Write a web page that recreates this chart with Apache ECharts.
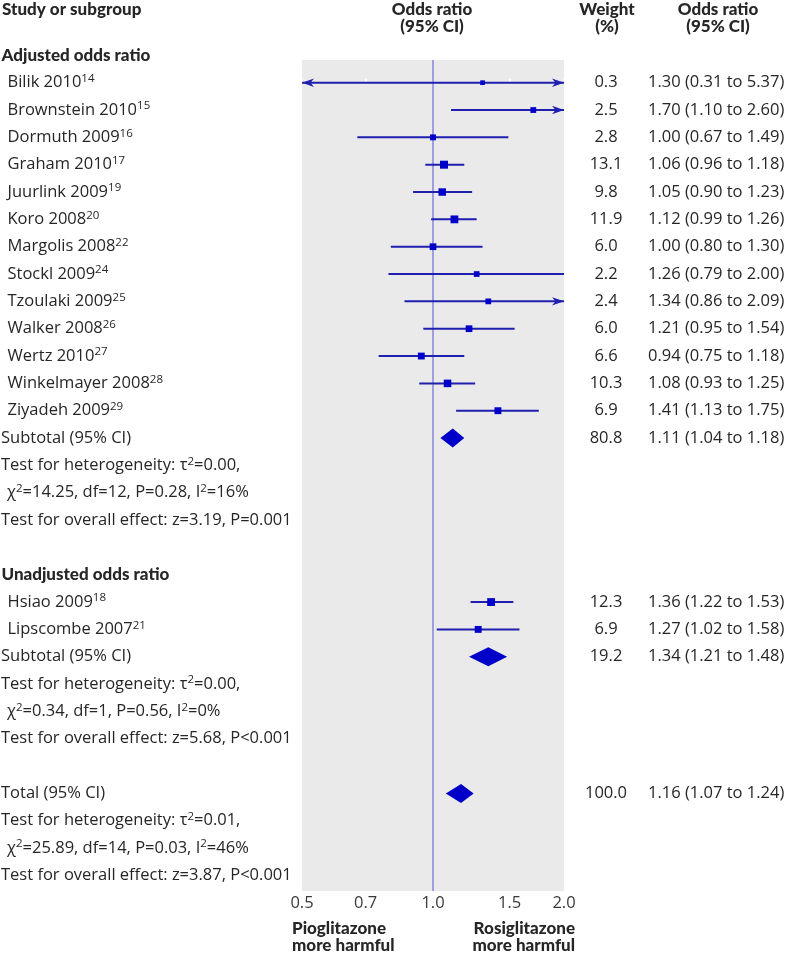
<!DOCTYPE html>
<html><head><meta charset="utf-8">
<script src="https://cdn.jsdelivr.net/npm/echarts@6/dist/echarts.min.js"></script>
<style>html,body{margin:0;padding:0;background:#fff}#c{width:792px;height:957px}</style>
</head><body><div id="c"></div>
<script>
// ---------------- data ----------------
const sectionLabels = ['Adjusted odds ratio', 'Unadjusted odds ratio'];

const adjStudies = ['Bilik 2010','Brownstein 2010','Dormuth 2009','Graham 2010','Juurlink 2009','Koro 2008','Margolis 2008','Stockl 2009','Tzoulaki 2009','Walker 2008','Wertz 2010','Winkelmayer 2008','Ziyadeh 2009'];
const adjRefs    = ['14','15','16','17','19','20','22','24','25','26','27','28','29'];
const adjWeight  = [0.3, 2.5, 2.8, 13.1, 9.8, 11.9, 6.0, 2.2, 2.4, 6.0, 6.6, 10.3, 6.9];
const adjOR      = [1.30, 1.70, 1.00, 1.06, 1.05, 1.12, 1.00, 1.26, 1.34, 1.21, 0.94, 1.08, 1.41];
const adjLow     = [0.31, 1.10, 0.67, 0.96, 0.90, 0.99, 0.80, 0.79, 0.86, 0.95, 0.75, 0.93, 1.13];
const adjHigh    = [5.37, 2.60, 1.49, 1.18, 1.23, 1.26, 1.30, 2.00, 2.09, 1.54, 1.18, 1.25, 1.75];

const unadjStudies = ['Hsiao 2009','Lipscombe 2007'];
const unadjRefs    = ['18','21'];
const unadjWeight  = [12.3, 6.9];
const unadjOR      = [1.36, 1.27];
const unadjLow     = [1.22, 1.02];
const unadjHigh    = [1.53, 1.58];

const summaryLabels = ['Subtotal (95% CI)','Subtotal (95% CI)','Total (95% CI)'];
const summaryWeight = [80.8, 19.2, 100.0];
const summaryOR     = [1.11, 1.34, 1.16];
const summaryLow    = [1.04, 1.21, 1.07];
const summaryHigh   = [1.18, 1.48, 1.24];

const hetTau2 = ['0.00','0.00','0.01'];
const hetChi2 = ['14.25','0.34','25.89'];
const hetDf   = ['12','1','14'];
const hetP    = ['P=0.28','P=0.56','P=0.03'];
const hetI2   = ['16','0','46'];
const effectZ = ['3.19','5.68','3.87'];
const effectP = ['P=0.001','P<0.001','P<0.001'];

const tickValues = [0.5, 0.7, 1.0, 1.5, 2.0];

// ---------------- styles ----------------
const FONT = '"Open Sans", "Noto Sans", sans-serif';
const BFONT = 'Lato, "Open Sans", sans-serif';
const FS = 16.5;
const TEXT = '#262626';
const CI_COLOR = '#1f1fb0';
const SQ_COLOR = '#0000c8';
const REF_COLOR = '#8484dc';
const BG = '#eaeaea';
const indentByKind = {section: 1.5, study: 7.5, summary: 1, stat: 1, statCont: 7, overall: 1};

const xMin = Math.log(tickValues[0]), xMax = Math.log(tickValues[tickValues.length - 1]);
const yMin = -0.83, yMax = 29.57;

// ---------------- rows ----------------
const rows = [];
let r = -1;
function addSummary(i) {
  rows.push({y: r++, kind: 'summary', text: '{s|' + summaryLabels[i] + '}', w: summaryWeight[i], or: summaryOR[i], lo: summaryLow[i], hi: summaryHigh[i]});
  rows.push({y: r++, kind: 'stat', text: '{s|Test for heterogeneity: τ}{sup|2}{s|=' + hetTau2[i] + ',}'});
  rows.push({y: r++, kind: 'statCont', text: '{s|χ}{sup|2}{s|=' + hetChi2[i] + ', df=' + hetDf[i] + ', ' + hetP[i] + ', I}{sup|2}{s|=' + hetI2[i] + '%}'});
  rows.push({y: r++, kind: 'overall', text: '{s|Test for overall effect: z=' + effectZ[i] + ', ' + effectP[i] + '}'});
  r++;
}
function addSection(i, studies, refs, w, or, lo, hi) {
  rows.push({y: r++, kind: 'section', text: '{b|' + sectionLabels[i] + '}'});
  studies.forEach((s, k) => rows.push({y: r++, kind: 'study', text: '{s|' + s + '}{sup|' + refs[k] + '}', w: w[k], or: or[k], lo: lo[k], hi: hi[k]}));
  addSummary(i);
}
addSection(0, adjStudies, adjRefs, adjWeight, adjOR, adjLow, adjHigh);
addSection(1, unadjStudies, unadjRefs, unadjWeight, unadjOR, unadjLow, unadjHigh);
addSummary(2);

const studyRows = rows.filter(d => d.kind === 'study');
const summaryRows = rows.filter(d => d.kind === 'summary');
const valueRows = rows.filter(d => d.w !== undefined);

const rich = {
  s: {fontFamily: FONT, fontSize: FS, fill: TEXT, lineHeight: 20},
  sup: {fontFamily: FONT, fontSize: 11.5, fill: TEXT, verticalAlign: 'top', lineHeight: 12},
  b: {fontFamily: BFONT, fontSize: 17, fontWeight: 900, fill: TEXT, lineHeight: 20}
};

function textItem(list, alignX, align, getText, useIndent) {
  return function (params, api) {
    const row = list[params.dataIndex];
    const p = api.coord([alignX, api.value(1)]);
    return {
      type: 'text',
      x: p[0] + (useIndent ? indentByKind[row.kind] : 0),
      y: p[1],
      style: {text: getText(row), rich: rich, align: align, verticalAlign: 'middle',
              fontFamily: FONT, fontSize: FS, fill: TEXT}
    };
  };
}

function arrow(x, y, dir) {
  return {type: 'polygon', shape: {points: [[x, y], [x - dir * 12, y - 4.2], [x - dir * 8.5, y], [x - dir * 12, y + 4.2]]},
          style: {fill: CI_COLOR}};
}

function studyItem(params, api) {
  const orv = api.value(0), y = api.value(1), lo = api.value(2), hi = api.value(3), w = api.value(4);
  const a = api.coord([Math.max(lo, xMin), y]);
  const b = api.coord([Math.min(hi, xMax), y]);
  const c = api.coord([orv, y]);
  const size = 4.1 + 1.07 * Math.sqrt(w);
  const children = [{type: 'line', shape: {x1: a[0], y1: a[1], x2: b[0], y2: b[1]}, style: {stroke: CI_COLOR, lineWidth: 2}}];
  if (lo < xMin - 1e-9) children.push(arrow(a[0], a[1], -1));
  if (hi > xMax + 1e-9) children.push(arrow(b[0], b[1], 1));
  children.push({type: 'rect', shape: {x: c[0] - size / 2, y: c[1] - size / 2, width: size, height: size}, style: {fill: SQ_COLOR}});
  return {type: 'group', children: children};
}

function diamondItem(params, api) {
  const y = api.value(1);
  const c = api.coord([api.value(0), y]);
  const a = api.coord([api.value(2), y]);
  const b = api.coord([api.value(3), y]);
  const h = 9.5;
  return {type: 'polygon', shape: {points: [[a[0], c[1]], [c[0], c[1] - h], [b[0], c[1]], [c[0], c[1] + h]]}, style: {fill: SQ_COLOR}};
}

function refItem(params, api) {
  const t = api.coord([api.value(0), yMin]);
  const b = api.coord([api.value(0), yMax]);
  return {type: 'line', shape: {x1: t[0], y1: t[1], x2: b[0], y2: b[1]}, style: {stroke: REF_COLOR, lineWidth: 1.5}};
}

const gridBase = {top: 60, bottom: 66, outerBoundsMode: 'none', containLabel: false};
const hiddenY = i => ({gridIndex: i, type: 'value', inverse: true, min: yMin, max: yMax, show: false});
const hiddenX = i => ({gridIndex: i, type: 'value', min: 0, max: 1, show: false});
const headStyle = (text, align) => ({text: text, fontFamily: BFONT, fontWeight: 900, fontSize: 17, lineHeight: 17, fill: TEXT, align: align, verticalAlign: 'middle'});

const option = {
  animation: false,
  backgroundColor: '#fff',
  textStyle: {fontFamily: FONT},
  grid: [
    Object.assign({left: 302, right: 228, show: true, backgroundColor: BG, borderWidth: 0}, gridBase),
    Object.assign({left: 0, width: 290}, gridBase),
    Object.assign({left: 560, width: 92}, gridBase),
    Object.assign({left: 648, width: 140}, gridBase)
  ],
  xAxis: [
    {gridIndex: 0, type: 'value', min: xMin, max: xMax,
     axisLine: {show: false}, splitLine: {show: false},
     axisTick: {show: true, inside: true, length: 4, lineStyle: {color: '#fff', width: 2}, customValues: tickValues.map(Math.log)},
     axisLabel: {customValues: tickValues.map(Math.log), formatter: v => Math.exp(v).toFixed(1),
                 fontFamily: FONT, fontSize: FS, color: '#3a3a3a', margin: 4}},
    hiddenX(1), hiddenX(2), hiddenX(3)
  ],
  yAxis: [hiddenY(0), hiddenY(1), hiddenY(2), hiddenY(3)],
  graphic: [
    {type: 'text', x: 2, y: 10, style: headStyle('Study or subgroup', 'left')},
    {type: 'text', x: 432, y: 18.5, style: headStyle('Odds ratio\n(95% CI)', 'center')},
    {type: 'text', x: 607, y: 18.5, style: headStyle('Weight\n(%)', 'center')},
    {type: 'text', x: 718, y: 18.5, style: headStyle('Odds ratio\n(95% CI)', 'center')},
    {type: 'text', x: 292, y: 937, style: Object.assign(headStyle('Pioglitazone\nmore harmful', 'left'), {lineHeight: 16.5})},
    {type: 'text', x: 575, y: 937, style: Object.assign(headStyle('Rosiglitazone\nmore harmful', 'right'), {lineHeight: 16.5})}
  ],
  series: [
    {type: 'custom', name: 'ref', xAxisIndex: 0, yAxisIndex: 0, z: 1, renderItem: refItem, data: [[Math.log(1), 0]], silent: true},
    {type: 'custom', name: 'studies', xAxisIndex: 0, yAxisIndex: 0, z: 3, renderItem: studyItem, clip: false,
     encode: {x: [0, 2, 3], y: 1},
     data: studyRows.map(d => [Math.log(d.or), d.y, Math.log(d.lo), Math.log(d.hi), d.w])},
    {type: 'custom', name: 'summaries', xAxisIndex: 0, yAxisIndex: 0, z: 3, renderItem: diamondItem, clip: false,
     encode: {x: [0, 2, 3], y: 1},
     data: summaryRows.map(d => [Math.log(d.or), d.y, Math.log(d.lo), Math.log(d.hi)])},
    {type: 'custom', name: 'labels', xAxisIndex: 1, yAxisIndex: 1, clip: false, encode: {x: 0, y: 1},
     renderItem: textItem(rows, 0, 'left', d => d.text, true),
     data: rows.map(d => [0, d.y])},
    {type: 'custom', name: 'weights', xAxisIndex: 2, yAxisIndex: 2, clip: false, encode: {x: 0, y: 1},
     renderItem: textItem(valueRows, 0.5, 'center', d => '{s|' + d.w.toFixed(1) + '}', false),
     data: valueRows.map(d => [0.5, d.y])},
    {type: 'custom', name: 'ors', xAxisIndex: 3, yAxisIndex: 3, clip: false, encode: {x: 0, y: 1},
     renderItem: textItem(valueRows, 0, 'left', d => '{s|' + d.or.toFixed(2) + ' (' + d.lo.toFixed(2) + ' to ' + d.hi.toFixed(2) + ')}', false),
     data: valueRows.map(d => [0, d.y])}
  ]
};

const chart = echarts.init(document.getElementById('c'), null, {renderer: 'canvas'});
chart.setOption(option);
</script>
</body></html>
